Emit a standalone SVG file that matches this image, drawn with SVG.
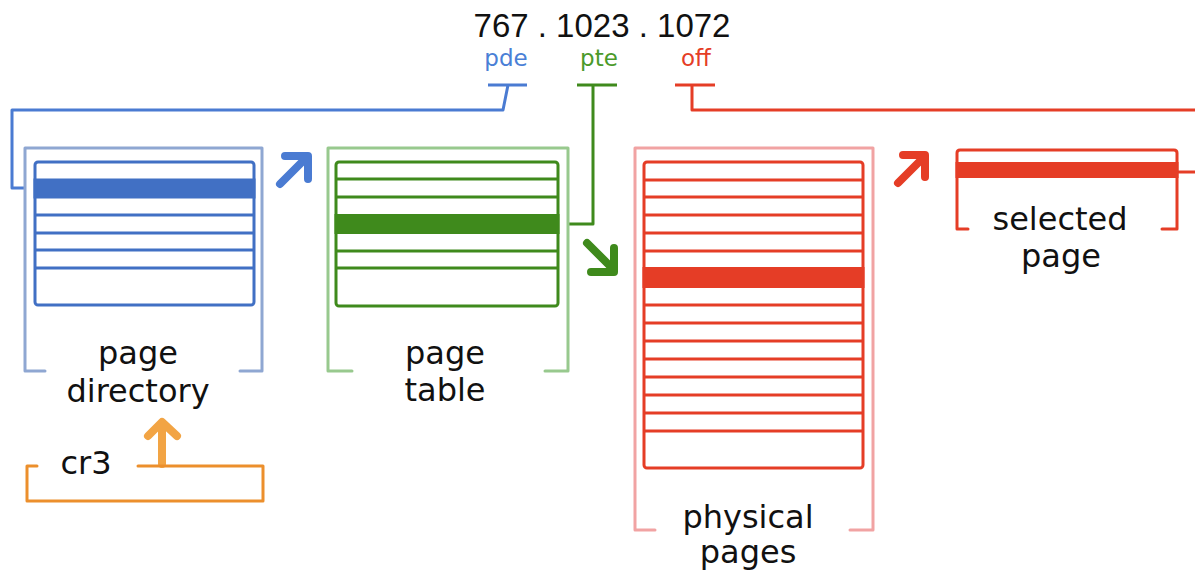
<svg xmlns="http://www.w3.org/2000/svg" width="1195" height="579" viewBox="0 0 1195 579">
  <style>
    .lbl { font-family: "DejaVu Sans", "Noto Sans", sans-serif; font-size: 32px; fill: #111; text-anchor: middle; }
    .idx { font-family: "DejaVu Sans", "Noto Sans", sans-serif; font-size: 23px; text-anchor: middle; }
    .addr { font-family: "Liberation Sans", Arial, sans-serif; font-size: 33px; fill: #111; text-anchor: middle; }
    .frame { fill: none; stroke-width: 3; stroke-linejoin: round; stroke-linecap: round; }
    .tbl { fill: #fff; stroke-width: 3; }
    .row { stroke-width: 3; }
    .wire { fill: none; stroke-width: 3; stroke-linejoin: round; }
    .arrow { fill: none; stroke-width: 8; stroke-linecap: round; stroke-linejoin: round; }
    .blue { stroke: #4170c4; }
    .green { stroke: #3f8a1c; }
    .red { stroke: #e53d26; }
  </style>

  <rect width="1195" height="579" fill="#fff"/>

  <!-- virtual address and its fields -->
  <g id="address">
    <text class="addr" x="602" y="37">767 . 1023 . 1072</text>
    <text class="idx" x="506" y="66" fill="#4a7fd6">pde</text>
    <text class="idx" x="599" y="66" fill="#4b9a2a">pte</text>
    <text class="idx" x="696" y="66" fill="#e53d26">off</text>
  </g>

  <!-- connectors -->
  <g id="connectors">
    <path class="wire" stroke="#4a7bd2" d="M488 85 H527 M508 85 L503 110 H12 V188 H25"/>
    <path class="wire" stroke="#3f8a1c" d="M577 85 H617 M593 85 V224 H568"/>
    <path class="wire" stroke="#e53d26" d="M675 85 H715 M692 85 V110 H1195"/>
    <path class="wire" stroke="#e53d26" d="M1177 172 H1195"/>
    <!-- step arrows -->
    <path class="arrow" stroke="#4a7bd2" d="M280 184 L306 158 M285 156 H308 V179"/>
    <path class="arrow" stroke="#3f8a1c" d="M587 243 L612 268 M614 248 V272 H591"/>
    <path class="arrow" stroke="#e53d26" d="M898 183 L923 158 M903 155 H925 V177"/>
    <path class="arrow" stroke="#f2a444" d="M162 464 V423 M148 436 L162 422 L177 436"/>
    <path class="wire" stroke="#ec8f2c" stroke-linecap="round" d="M37 466 H27 V501 H263 V466 H138"/>
  </g>

  <!-- cr3 register -->
  <g id="cr3">
    <text class="lbl" x="86" y="474" font-size="30">cr3</text>
  </g>

  <!-- page directory -->
  <g id="page-directory">
    <path class="frame" stroke="#8fa7d2" d="M45 371 H25 V148 H262 V371 H240"/>
    <rect class="tbl blue" x="35" y="162" width="219" height="143" rx="3"/>
    <g class="row blue">
      <line x1="35" y1="215" x2="254" y2="215"/>
      <line x1="35" y1="233" x2="254" y2="233"/>
      <line x1="35" y1="250" x2="254" y2="250"/>
      <line x1="35" y1="268" x2="254" y2="268"/>
    </g>
    <rect x="33.5" y="178.5" width="222" height="20" fill="#4170c4"/>
    <text class="lbl" x="138" y="364">page</text>
    <text class="lbl" x="138" y="402">directory</text>
  </g>

  <!-- page table -->
  <g id="page-table">
    <path class="frame" stroke="#98c98e" d="M352 371 H328 V148 H568 V371 H545"/>
    <rect class="tbl green" x="336" y="162" width="222" height="144" rx="3"/>
    <g class="row green">
      <line x1="336" y1="179" x2="558" y2="179"/>
      <line x1="336" y1="197" x2="558" y2="197"/>
      <line x1="336" y1="251" x2="558" y2="251"/>
      <line x1="336" y1="268" x2="558" y2="268"/>
    </g>
    <rect x="334.5" y="214" width="225" height="20" fill="#3f8a1c"/>
    <text class="lbl" x="445" y="364">page</text>
    <text class="lbl" x="445" y="401">table</text>
  </g>

  <!-- physical pages -->
  <g id="physical-pages">
    <path class="frame" stroke="#f1a3a3" d="M655 530 H635 V148 H873 V530 H850"/>
    <rect class="tbl red" x="644" y="162" width="219" height="306" rx="3"/>
    <g class="row red">
      <line x1="644" y1="180" x2="863" y2="180"/>
      <line x1="644" y1="197" x2="863" y2="197"/>
      <line x1="644" y1="215" x2="863" y2="215"/>
      <line x1="644" y1="233" x2="863" y2="233"/>
      <line x1="644" y1="251" x2="863" y2="251"/>
      <line x1="644" y1="305" x2="863" y2="305"/>
      <line x1="644" y1="323" x2="863" y2="323"/>
      <line x1="644" y1="341" x2="863" y2="341"/>
      <line x1="644" y1="359" x2="863" y2="359"/>
      <line x1="644" y1="377" x2="863" y2="377"/>
      <line x1="644" y1="395" x2="863" y2="395"/>
      <line x1="644" y1="413" x2="863" y2="413"/>
      <line x1="644" y1="431" x2="863" y2="431"/>
    </g>
    <rect x="642.5" y="267" width="222" height="21" fill="#e53d26"/>
    <text class="lbl" x="748" y="528">physical</text>
    <text class="lbl" x="748" y="563">pages</text>
  </g>

  <!-- selected page -->
  <g id="selected-page">
    <path class="frame" stroke="#e53d26" d="M968 229 H957 V153 Q957 150 960 150 H1174 Q1177 150 1177 153 V229 H1162"/>
    <rect x="955.5" y="162" width="223" height="16" fill="#e53d26"/>
    <text class="lbl" x="1060" y="230" font-size="33">selected</text>
    <text class="lbl" x="1061" y="267" font-size="33">page</text>
  </g>
</svg>
